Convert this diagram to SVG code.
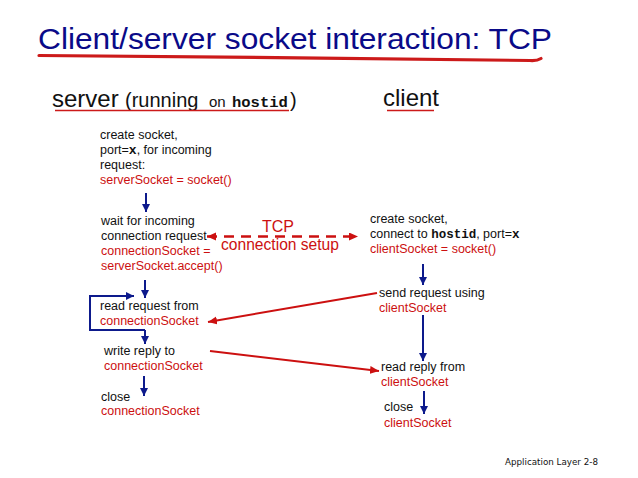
<svg xmlns="http://www.w3.org/2000/svg" width="638" height="478" viewBox="0 0 638 478">
<style>
.t{font-family:"Liberation Sans",Arial,sans-serif;font-size:12.5px;fill:#111}
.r{fill:#cc1010}
.m{font-family:"Liberation Mono","Courier New",monospace;font-weight:bold}
.blue{stroke:#0d1a8c;stroke-width:2;fill:none}
.red{stroke:#cc1010;stroke-width:2;fill:none}
</style>
<defs>
<marker id="ab" markerUnits="userSpaceOnUse" markerWidth="9" markerHeight="9" refX="8" refY="4" orient="auto">
<path d="M0,0 L8,4 L0,8 z" fill="#0d1a8c"/>
</marker>
<marker id="ar" markerUnits="userSpaceOnUse" markerWidth="10" markerHeight="9" refX="9" refY="4" orient="auto-start-reverse">
<path d="M0,0 L9,4 L0,8 z" fill="#cc1010"/>
</marker>
</defs>
<rect width="638" height="478" fill="#fff"/>

<g id="title">
<text x="38" y="49" font-family="'Liberation Sans',Arial,sans-serif" font-size="29" fill="#0a0a88" textLength="514" lengthAdjust="spacingAndGlyphs">Client/server socket interaction: TCP</text>
<path d="M39,55.5 C150,56.5 400,58.5 530,60.5 Q537,61 541,58.5" stroke="#cc1a1a" stroke-width="3.2" fill="none" stroke-linecap="round"/>
</g>

<g id="header-server">
<text y="107" font-family="'Liberation Sans',Arial,sans-serif" fill="#111"><tspan x="52" font-size="24">server</tspan><tspan x="125" font-size="20">(running</tspan><tspan x="209" font-size="15">on</tspan><tspan x="232" font-size="15.5" class="m">hostid</tspan><tspan x="290" font-size="20">)</tspan></text>
<line x1="55" y1="110.5" x2="289" y2="110.5" stroke="#cc1a1a" stroke-width="1.6"/>
</g>
<g id="header-client">
<text x="383" y="106" font-family="'Liberation Sans',Arial,sans-serif" font-size="24" fill="#111">client</text>
<line x1="387" y1="110.5" x2="434" y2="110.5" stroke="#cc1a1a" stroke-width="1.6"/>
</g>

<g id="server-create">
<text class="t" x="100" y="139">create socket,</text>
<text class="t" x="100" y="154">port=<tspan class="m" font-size="13">x</tspan>, for incoming</text>
<text class="t" x="100" y="169">request:</text>
<text class="t r" x="100" y="184">serverSocket = socket()</text>
</g>
<g id="server-accept">
<text class="t" x="101" y="225">wait for incoming</text>
<text class="t" x="101" y="240">connection request</text>
<text class="t r" x="101" y="255">connectionSocket =</text>
<text class="t r" x="101" y="270">serverSocket.accept()</text>
</g>
<g id="server-read">
<text class="t" x="100" y="310">read request from</text>
<text class="t r" x="100" y="325">connectionSocket</text>
</g>
<g id="server-write">
<text class="t" x="104" y="355">write reply to</text>
<text class="t r" x="104" y="370">connectionSocket</text>
</g>
<g id="server-close">
<text class="t" x="101" y="401">close</text>
<text class="t r" x="101" y="415">connectionSocket</text>
</g>

<g id="client-create">
<text class="t" x="370" y="223">create socket,</text>
<text class="t" x="370" y="238">connect to <tspan class="m" font-size="12.5">hostid</tspan>, port=<tspan class="m" font-size="12.5">x</tspan></text>
<text class="t r" x="370" y="253">clientSocket = socket()</text>
</g>
<g id="client-send">
<text class="t" x="379" y="297">send request using</text>
<text class="t r" x="379" y="312">clientSocket</text>
</g>
<g id="client-read">
<text class="t" x="381" y="371">read reply from</text>
<text class="t r" x="381" y="386">clientSocket</text>
</g>
<g id="client-close">
<text class="t" x="384" y="411">close</text>
<text class="t r" x="384" y="427">clientSocket</text>
</g>

<g id="connectors">
<line class="blue" x1="146" y1="193" x2="146" y2="212" marker-end="url(#ab)"/>
<line class="blue" x1="145" y1="280" x2="145" y2="298" marker-end="url(#ab)"/>
<line class="blue" x1="145" y1="330" x2="145" y2="344" marker-end="url(#ab)"/>
<polyline class="blue" points="145,330 90,330 90,296 134,296" marker-end="url(#ab)"/>
<line class="blue" x1="144" y1="376" x2="144" y2="396" marker-end="url(#ab)"/>
<line class="blue" x1="423" y1="264" x2="423" y2="285" marker-end="url(#ab)"/>
<line class="blue" x1="423" y1="315" x2="423" y2="361" marker-end="url(#ab)"/>
<line class="blue" x1="424" y1="391" x2="424" y2="414" marker-end="url(#ab)"/>
<line x1="207" y1="236.5" x2="358" y2="236.5" stroke="#cc1010" stroke-width="2.6" stroke-dasharray="10,7" marker-start="url(#ar)" marker-end="url(#ar)"/>
<line class="red" x1="377" y1="293" x2="208" y2="322" marker-end="url(#ar)"/>
<line class="red" x1="210" y1="351" x2="379" y2="371" marker-end="url(#ar)"/>
<text x="278" y="232" text-anchor="middle" font-family="'Liberation Sans',Arial,sans-serif" font-size="16" fill="#cc1010">TCP</text>
<text x="280" y="250" text-anchor="middle" font-family="'Liberation Sans',Arial,sans-serif" font-size="15.6" fill="#cc1010">connection setup</text>
</g>

<g id="footer">
<text x="505" y="465" font-family="'DejaVu Sans',Verdana,sans-serif" font-size="9" fill="#111" textLength="93" lengthAdjust="spacingAndGlyphs">Application Layer 2-8</text>
</g>
</svg>
